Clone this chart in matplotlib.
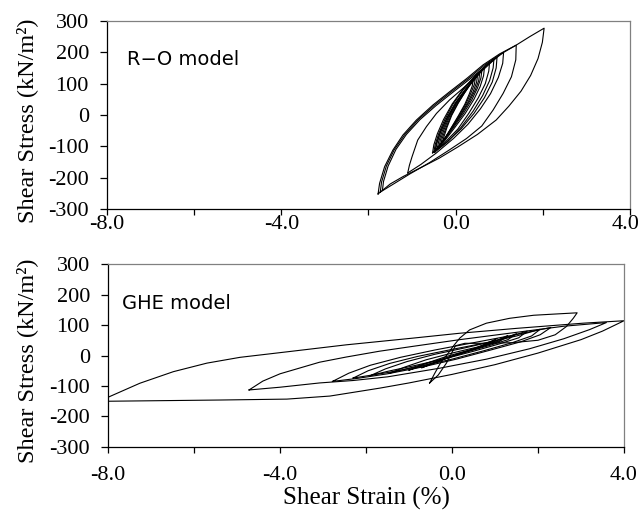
import matplotlib
matplotlib.use('Agg')
import matplotlib.pyplot as plt
from matplotlib.ticker import FixedLocator
from matplotlib.transforms import ScaledTranslation

plt.rcParams['axes.unicode_minus'] = False

# ---- R-O model loops (strain %, stress kN/m2) ----
ro_1_x = [-1.78, -1.745, -1.63, -1.44, -1.21, -0.90, -0.52, -0.14, 0.25, 0.63, 1.01, 1.39, 1.70, 2.03,
          1.99, 1.89, 1.72, 1.50, 1.22, 0.93, 0.50, 0.05, -0.38, -0.80, -1.20, -1.50, -1.78]
ro_1_y = [-252, -218, -165, -112, -64, -16, 32, 74, 116, 160, 195, 223, 250, 277,
          232, 180, 126, 76, 28, -16, -62, -102, -138, -168, -196, -220, -252]
ro_2_x = [-1.73, -1.70, -1.59, -1.41, -1.17, -0.86, -0.48, -0.10, 0.29, 0.67, 1.03, 1.39,
          1.38, 1.28, 1.09, 0.86, 0.60, 0.25, -0.15, -0.60, -1.05, -1.40, -1.73]
ro_2_y = [-246, -214, -163, -111, -63, -15, 32, 74, 116, 160, 194, 223,
          176, 122, 69, 16, -35, -75, -112, -152, -188, -218, -246]
ro_3_x = [-1.68, -1.655, -1.55, -1.37, -1.13, -0.82, -0.45, -0.07, 0.31, 0.70, 1.10,
          1.08, 0.98, 0.80, 0.57, 0.28, -0.05, -0.45, -0.80, -1.10]
ro_3_y = [-240, -212, -163, -110, -62, -15, 30, 72, 113, 157, 200,
          165, 120, 68, 20, -30, -75, -122, -158, -185]
ro_4_x = [-1.10, -1.06, -1.00, -0.87, -0.67, -0.44, -0.14, 0.25, 0.60, 0.95,
          0.93, 0.84, 0.66, 0.42, 0.12, -0.22, -0.53]
ro_4_y = [-185, -160, -133, -80, -37, 5, 48, 95, 140, 185,
          150, 105, 55, 5, -45, -88, -121]
ro_5_x = [-0.53, -0.50, -0.42, -0.28, -0.08, 0.18, 0.45, 0.78,
          0.76, 0.68, 0.52, 0.30, 0.05, -0.25, -0.50]
ro_5_y = [-121, -95, -60, -15, 35, 85, 125, 170,
          140, 100, 55, 5, -45, -88, -118]
ro_6_x = [-0.48, -0.44, -0.34, -0.18, 0.04, 0.30, 0.58, 0.88,
          0.86, 0.78, 0.62, 0.40, 0.12, -0.18, -0.48]
ro_6_y = [-119, -90, -50, -5, 45, 95, 140, 180,
          150, 110, 62, 12, -40, -85, -119]
ro_c1_x = [-0.50, -0.47, -0.39, -0.25, -0.06, 0.17, 0.42, 0.66,
           0.64, 0.56, 0.42, 0.22, -0.02, -0.25, -0.50]
ro_c1_y = [-118, -95, -60, -15, 35, 80, 120, 150,
           125, 90, 50, 5, -40, -82, -118]
ro_c2_x = [-0.46, -0.43, -0.35, -0.21, -0.02, 0.20, 0.40, 0.60,
           0.58, 0.50, 0.37, 0.18, -0.04, -0.25, -0.46]
ro_c2_y = [-112, -90, -56, -12, 36, 78, 112, 140,
           118, 86, 48, 5, -38, -78, -112]
ro_c3_x = [-0.42, -0.39, -0.31, -0.17, 0.01, 0.21, 0.38, 0.55,
           0.53, 0.45, 0.32, 0.14, -0.06, -0.24, -0.42]
ro_c3_y = [-106, -85, -52, -8, 38, 78, 108, 132,
           110, 80, 44, 3, -38, -74, -106]
ro_c4_x = [-0.38, -0.35, -0.27, -0.14, 0.03, 0.22, 0.36, 0.50,
           0.48, 0.40, 0.28, 0.11, -0.07, -0.23, -0.38]
ro_c4_y = [-100, -80, -48, -5, 38, 76, 103, 124,
           104, 74, 40, 0, -38, -70, -100]
ro_c5_x = [-0.34, -0.31, -0.23, -0.11, 0.05, 0.22, 0.33, 0.45,
           0.43, 0.35, 0.24, 0.08, -0.08, -0.21, -0.34]
ro_c5_y = [-94, -75, -44, -3, 38, 74, 97, 116,
           98, 70, 37, -2, -37, -66, -94]
ro_c6_x = [-0.30, -0.27, -0.20, -0.09, 0.06, 0.21, 0.31, 0.40,
           0.38, 0.31, 0.21, 0.06, -0.08, -0.19, -0.30]
ro_c6_y = [-88, -70, -40, -1, 38, 72, 92, 108,
           92, 66, 34, -3, -36, -62, -88]

# ---- GHE model loops ----
ghe_1_x = [-8.00, -7.26, -6.48, -5.70, -4.93, -3.84, -2.46, -0.91, 0.18, 1.50, 3.05, 4.00,
           3.50, 3.00, 2.00, 1.00, 0.00, -1.00, -1.68, -2.84, -3.84, -5.40, -8.00]
ghe_1_y = [-137, -91, -53, -25, -6, 12, 35, 57, 73, 89, 106, 114,
           80, 52, 8, -30, -62, -90, -107, -133, -143, -146, -150]
ghe_2_x = [-4.72, -4.40, -4.00, -3.08, -2.46, -1.69, -0.91, 0.18, 1.50, 2.60, 3.59,
           3.20, 2.60, 1.80, 0.80, -0.30, -1.50, -2.30, -3.08, -4.00, -4.72]
ghe_2_y = [-113, -84, -60, -22, -5, 14, 30, 52, 76, 96, 108,
           85, 55, 22, -12, -42, -70, -82, -90, -104, -113]
ghe_s_x = [-0.52, -0.40, -0.25, -0.09, 0.02, 0.18, 0.41, 0.80, 1.34, 1.90, 2.40, 2.91,
           2.82, 2.66, 2.40, 2.00, 1.40, 0.80, 0.30, 0.08, -0.01, -0.13, -0.32, -0.52]
ghe_s_y = [-90, -58, -20, 7, 29, 57, 84, 106, 122, 132, 136, 140,
           122, 95, 68, 50, 42, 40, 40, 32, 7, -25, -64, -90]
ghe_f1_x = [-2.78, -2.40, -1.90, -1.20, -0.40, 0.50, 1.40, 2.30,
            2.05, 1.60, 0.90, 0.10, -0.70, -1.50, -2.20, -2.78]
ghe_f1_y = [-85, -58, -32, -6, 18, 42, 66, 92,
            68, 45, 18, -12, -38, -60, -75, -85]
ghe_f2_x = [-2.30, -1.95, -1.45, -0.80, 0.00, 0.80, 1.50, 2.05,
            1.85, 1.40, 0.75, 0.00, -0.75, -1.50, -2.30]
ghe_f2_y = [-74, -50, -26, -3, 20, 42, 64, 86,
            64, 42, 16, -12, -36, -56, -74]
ghe_f3_x = [-1.90, -1.55, -1.05, -0.40, 0.30, 1.00, 1.75,
            1.55, 1.10, 0.50, -0.20, -0.90, -1.50, -1.90]
ghe_f3_y = [-66, -44, -20, 4, 25, 48, 80,
            58, 38, 14, -12, -34, -52, -66]
ghe_f4_x = [-1.45, -1.10, -0.60, 0.00, 0.60, 1.10, 1.50,
            1.30, 0.90, 0.30, -0.30, -0.90, -1.45]
ghe_f4_y = [-58, -38, -14, 8, 28, 48, 72,
            52, 34, 10, -14, -38, -58]
ghe_f5_x = [-1.00, -0.65, -0.15, 0.40, 0.90, 1.30,
            1.10, 0.65, 0.10, -0.45, -1.00]
ghe_f5_y = [-48, -28, -4, 18, 40, 66,
            46, 26, 2, -24, -48]
ghe_f6_x = [-0.70, -0.35, 0.10, 0.55, 1.05,
            0.85, 0.40, -0.10, -0.70]
ghe_f6_y = [-40, -20, 2, 24, 56,
            38, 16, -8, -40]

ro_paths = [(ro_1_x, ro_1_y), (ro_2_x, ro_2_y), (ro_3_x, ro_3_y), (ro_4_x, ro_4_y),
            (ro_5_x, ro_5_y), (ro_6_x, ro_6_y), (ro_c1_x, ro_c1_y), (ro_c2_x, ro_c2_y),
            (ro_c3_x, ro_c3_y), (ro_c4_x, ro_c4_y), (ro_c5_x, ro_c5_y), (ro_c6_x, ro_c6_y)]
ghe_paths = [(ghe_1_x, ghe_1_y), (ghe_2_x, ghe_2_y), (ghe_s_x, ghe_s_y),
             (ghe_f1_x, ghe_f1_y), (ghe_f2_x, ghe_f2_y), (ghe_f3_x, ghe_f3_y),
             (ghe_f4_x, ghe_f4_y), (ghe_f5_x, ghe_f5_y), (ghe_f6_x, ghe_f6_y)]

x_ticks = [-8, -4, 0, 4]
x_tick_labels = ['-8.0', '-4.0', '0.0', '4.0']
x_minor = [-6, -2, 2]
y_ticks = [-300, -200, -100, 0, 100, 200, 300]

serif = 'Liberation Serif'
sans = 'DejaVu Sans'

fig = plt.figure(figsize=(6.41, 5.18), dpi=100)
ax_top = fig.add_axes([0.1669, 0.5965, 0.8159, 0.3630])
ax_bot = fig.add_axes([0.1685, 0.1371, 0.8050, 0.3532])


def style_axes(ax, label_x, xpad):
    ax.set_xlim(-8, 4)
    ax.set_ylim(-300, 300)
    ax.xaxis.set_major_locator(FixedLocator(x_ticks))
    ax.xaxis.set_minor_locator(FixedLocator(x_minor))
    ax.set_xticklabels(x_tick_labels, family=serif, fontsize=16)
    ax.set_yticks(y_ticks)
    ax.set_yticklabels([str(v) for v in y_ticks], family=serif, fontsize=16)
    ax.tick_params(axis='x', which='both', direction='out', length=4, width=0.9, pad=xpad)
    ax.tick_params(axis='y', direction='out', length=5, width=0.9, pad=8)
    ax.tick_params(top=False, right=False)
    for side in ['left', 'bottom']:
        ax.spines[side].set_color('black')
        ax.spines[side].set_linewidth(0.9)
    for side in ['top', 'right']:
        ax.spines[side].set_color('#808080')
        ax.spines[side].set_linewidth(0.9)
    ax.set_ylabel('Shear Stress (kN/m\u00b2)', family=serif, fontsize=17.5)
    ax.yaxis.set_label_coords(label_x, 0.47)


for x, y in ro_paths:
    ax_top.plot(x, y, color='black', lw=0.8)
for x, y in ghe_paths:
    ax_bot.plot(x, y, color='black', lw=0.8)

style_axes(ax_top, -0.132, 0)
style_axes(ax_bot, -0.136, 10)

# the last label of the top axis sits a little inside the figure edge
last = ax_top.get_xticklabels()[-1]
last.set_transform(last.get_transform() + ScaledTranslation(-4 / 100, 0, fig.dpi_scale_trans))

ax_top.text(-7.55, 176, 'R\u2212O model', family=sans, fontsize=14, va='center')
ax_bot.text(-7.68, 172, 'GHE model', family=sans, fontsize=14, va='center')
ax_bot.set_xlabel('Shear Strain (%)', family=serif, fontsize=18, labelpad=1)

fig.savefig('out.png', dpi=100)
